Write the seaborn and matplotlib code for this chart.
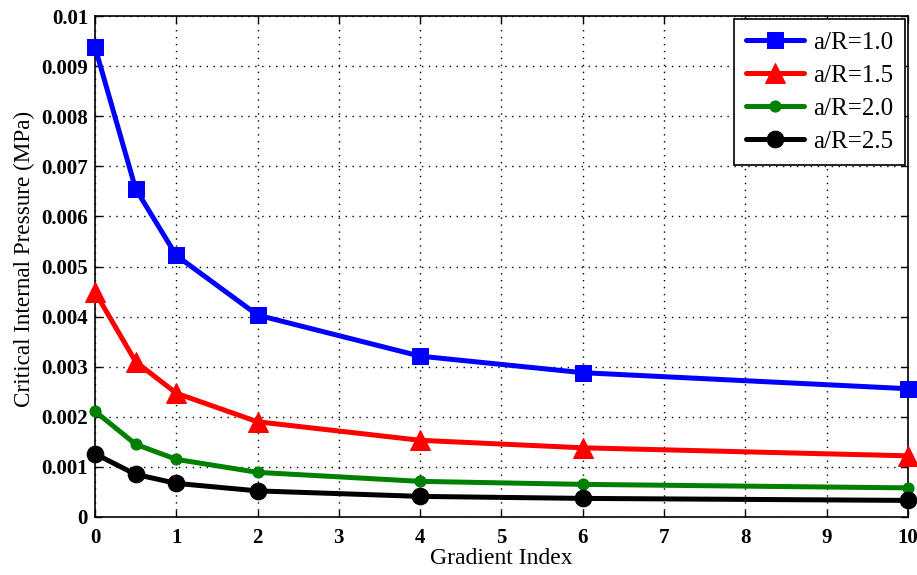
import numpy as np
import pandas as pd
import matplotlib
matplotlib.use("Agg")
import matplotlib.pyplot as plt
import seaborn as sns

# Gradient index values
gradient_index = [0, 0.5, 1, 2, 4, 6, 10]

# Critical internal pressure (MPa) for each a/R ratio
p_ar_10 = [0.00938, 0.00655, 0.00522, 0.00403, 0.00321, 0.00288, 0.00256]
p_ar_15 = [0.00449, 0.00310, 0.00247, 0.00190, 0.00153, 0.00138, 0.00122]
p_ar_20 = [0.00211, 0.00145, 0.00115, 0.00089, 0.00071, 0.00065, 0.00058]
p_ar_25 = [0.00126, 0.00085, 0.00067, 0.00052, 0.00041, 0.00037, 0.00033]

labels = ["a/R=1.0", "a/R=1.5", "a/R=2.0", "a/R=2.5"]
series = [p_ar_10, p_ar_15, p_ar_20, p_ar_25]

sns.set_theme(style="white")
plt.rcParams["font.family"] = ["Liberation Serif", "DejaVu Serif"]
plt.rcParams["text.color"] = "black"
plt.rcParams["axes.labelcolor"] = "black"

rows = []
for lab, vals in zip(labels, series):
    for x, y in zip(gradient_index, vals):
        rows.append({"Gradient Index": x, "Pressure": y, "Series": lab})
df = pd.DataFrame(rows)

fig = plt.figure(figsize=(9.17, 5.75), dpi=100)
ax = fig.add_axes([0.1036, 0.101, 0.8864, 0.871])

colors = ["#0000ff", "#ff0000", "#008000", "#000000"]
markers = ["s", "^", "o", "o"]
msizes = [11, 14, 8, 12]

for lab, c, m, ms in zip(labels, colors, markers, msizes):
    sub = df[df["Series"] == lab]
    sns.lineplot(data=sub, x="Gradient Index", y="Pressure", ax=ax,
                 color=c, marker=m, markersize=ms, markeredgecolor=c,
                 linewidth=3.6, label=lab, zorder=3, clip_on=False)

ax.set_xlim(0, 10)
ax.set_ylim(0, 0.01)
ax.set_xticks(range(0, 11))
ax.set_xticklabels([str(i) for i in range(0, 11)])
yt = np.arange(0, 0.0101, 0.001)
ax.set_yticks(yt)
ax.set_yticklabels(["0"] + [f"{v:.3f}" for v in yt[1:-1]] + ["0.01"])

for lbl in ax.get_xticklabels() + ax.get_yticklabels():
    lbl.set_fontweight("bold")
    lbl.set_fontsize(15)

ax.tick_params(direction="in", length=5, width=1, top=True, right=True,
               bottom=True, left=True, colors="black", pad=5)
ax.tick_params(axis="x", pad=8)
ax.grid(True, linestyle=(0, (1, 4)), color="black", linewidth=1)
for sp in ax.spines.values():
    sp.set_color("black")
    sp.set_linewidth(1.2)

ax.set_xlabel("Gradient Index", fontsize=17, labelpad=0, color="black")
ax.set_ylabel("Critical Internal Pressure (MPa)", fontsize=16.7, color="black")
ax.yaxis.set_label_coords(-0.074, 0.515)

leg = ax.legend(loc="upper right", fontsize=18, frameon=True, fancybox=False,
                edgecolor="black", framealpha=1, borderaxespad=0.1,
                handlelength=2.3, markerscale=1.0, labelspacing=0.42,
                borderpad=0.5, handletextpad=0.35)
leg.get_frame().set_linewidth(1.2)
for t in leg.get_texts():
    t.set_color("black")

fig.savefig("out.png", dpi=100)
